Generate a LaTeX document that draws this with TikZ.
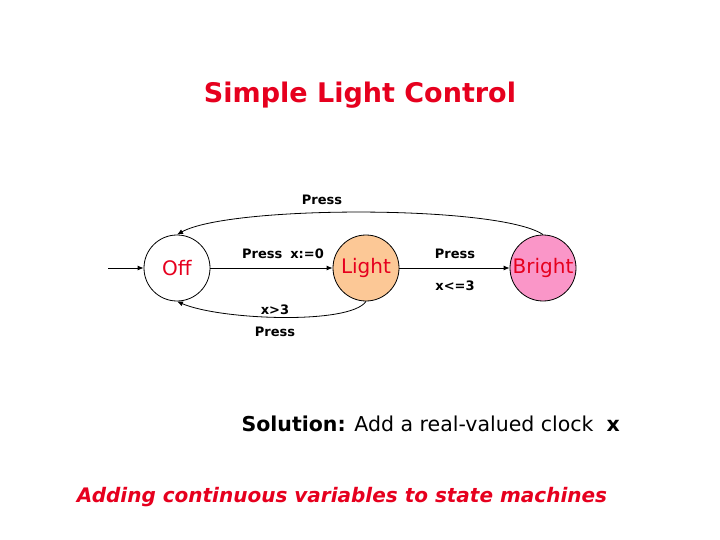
\documentclass[tikz,border=0pt]{standalone}
\usepackage{fontspec}
\setmainfont{DejaVu Sans}
\usetikzlibrary{arrows.meta}
\definecolor{tred}{RGB}{230,0,30}
\definecolor{lorange}{RGB}{252,200,150}
\definecolor{lpink}{RGB}{250,150,200}
\begin{document}
\begin{tikzpicture}[x=1pt,y=-1pt,
  st/.style={circle,draw,thick,minimum size=66pt,inner sep=0pt,text=tred,font=\fontsize{20}{24}\selectfont},
  lab/.style={font=\bfseries\fontsize{13}{15}\selectfont},
  arr/.style={-{Latex[length=6pt,width=5pt]},thick}]
\useasboundingbox (0,0) rectangle (720,540);
\node[text=tred,font=\bfseries\fontsize{27}{32}\selectfont] (title) at (360,95) {Simple Light Control};
\node[st] (off) at (177,268) {Off};
\node[st,fill=lorange] (light) at (366,268) {Light};
\node[st,fill=lpink] (bright) at (543,268) {Bright};
\coordinate (init) at (108,268);
\draw[arr] (init) -- (off);
\draw[arr] (off) -- (light);
\draw[arr] (light) -- (bright);
\draw[arr] (bright.north) .. controls (500,205) and (230,205) .. (off.north);
\draw[arr] (light.south) .. controls (350,325) and (220,320) .. (off.south);
\node[lab] (l1) at (322,200) {Press};
\node[lab] (l2) at (283,254) {Press\hspace{8pt}x:=0};
\node[lab] (l3) at (455,254) {Press};
\node[lab] (l4) at (455,286) {x<=3};
\node[lab] (l5) at (275,310) {x>3};
\node[lab] (l6) at (275,332) {Press};
\node[anchor=west,font=\fontsize{20.5}{24}\selectfont] (sol) at (238,424) {\textbf{Solution:} Add a real-valued clock \ \textbf{x}};
\node[text=tred,font=\bfseries\itshape\fontsize{20}{24}\selectfont] (foot) at (342,497) {Adding continuous variables to state machines};
\end{tikzpicture}
\end{document}
